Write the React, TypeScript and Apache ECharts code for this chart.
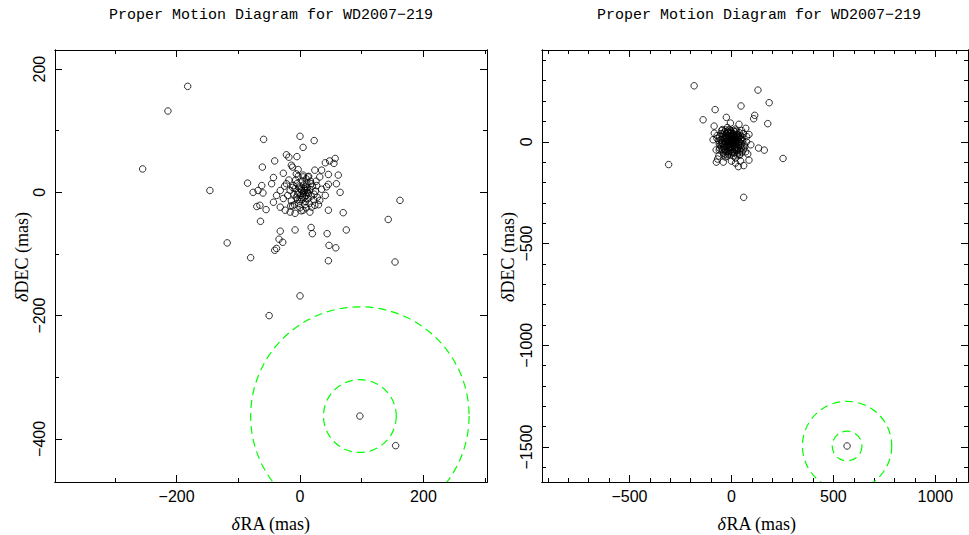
import React, { useEffect, useRef } from 'react';
import * as echarts from 'echarts';

const TITLE = 'Proper Motion Diagram for WD2007\u2212219';

// Axis extents (mas)
const leftXRange = [-397, 303];
const leftYRange = [-470, 231];
const rightXRange = [-929, 1160];
const rightYRange = [-1672, 451];

// Tick values
const leftXMajor = [-200, 0, 200];
const leftXMinor = [-300, -100, 100, 300];
const leftYMajor = [-400, -200, 0, 200];
const leftYMinor = [-300, -100, 100];
const rightXMajor = [-500, 0, 500, 1000];
const rightXMinor = [-900, -800, -700, -600, -400, -300, -200, -100, 100, 200, 300, 400, 600, 700, 800, 900, 1100];
const rightYMajor = [-1500, -1000, -500, 0];
const rightYMinor = [-1600, -1400, -1300, -1200, -1100, -900, -800, -700, -600, -400, -300, -200, -100, 100, 200, 300, 400];

// Left panel: field stars (dRA, dDEC)
const leftStars: number[][] = [
  [-182, 172], [-214, 132], [-255, 38], [-146, 3], [-118, -82], [-80, -106],
  [162, -13], [143, -44], [154, -113], [0, -168], [-50, -200], [155, -411],
  [-59, 86], [0, 91], [23, 84], [5, 73], [-22, 61], [-18, 57], [-5, 58],
  [-41, 51], [-61, 41], [-14, 44], [-12, 41], [-3, 37], [41, 48], [48, 51],
  [57, 55], [55, 47], [-27, 31], [-43, 24], [-46, 14], [-85, 15], [-76, 0],
  [-68, 3], [-62, 11], [-60, -1], [5, 28], [13, 25], [24, 36], [35, 36],
  [32, 25], [46, 29], [62, 28], [59, 14], [65, 0], [46, 13], [43, 9], [27, 11],
  [-11, 11], [-22, 14], [-32, 3], [-38, -5], [-43, -16], [-27, -10], [-32, -24],
  [-24, -29], [-16, -32], [-8, -34], [5, -29], [16, -32], [24, -21], [32, -13],
  [41, -5], [-70, -23], [-65, -21], [-55, -28], [-64, -47], [46, -29], [70, -33],
  [-32, -63], [-8, -61], [18, -57], [20, -67], [44, -67], [75, -61], [-34, -76],
  [-28, -81], [-38, -91], [-41, -94], [47, -86], [58, -90], [46, -111],
  [2, 5], [5, -2], [8, 3], [-3, 0], [10, -5], [0, 10], [6, 12], [12, 8], [-6, -8],
  [3, -12], [14, -2], [-8, 6], [9, -15], [16, 5], [-2, -18], [4, 18], [11, 15],
  [-10, -3], [7, -8], [1, -5], [13, -10], [-5, 14], [18, -6], [20, 10], [-12, 8],
  [0, -25], [10, 22], [-4, -12], [15, -18], [6, 0], [3, 3], [-1, 7], [12, 0],
  [8, -20], [-7, 20], [17, 18], [22, -12], [-14, -14], [5, 25], [25, 2], [9, 9],
  [-9, -20], [19, -24], [2, -30], [-3, 26],
  [-18, 20], [-15, -22], [28, -8], [26, 18], [-20, -5], [10, -25], [-6, 30],
  [30, -20], [14, 26], [-25, 10], [4, -8], [11, 3], [-4, -4], [18, 14], [7, 6],
  [0, -12], [-12, -22], [23, -3], [-16, 3], [35, 5],
];
const leftTarget: number[][] = [[97, -363]];
// Error circles: centre x, centre y, radius (mas)
const leftCircles: number[][] = [[97, -363, 59], [97, -363, 177]];

// Right panel
const rightStars: number[][] = [
  [-183, 275], [130, 254], [185, 192], [47, 176], [-80, 158], [-139, 108],
  [114, 130], [109, 113], [178, 89], [-25, 120], [-85, 77], [-84, 42], [86, 36],
  [133, -31], [161, -41], [253, -82], [-308, -112], [60, -273], [-74, -100],
  [0, -95], [34, -122], [60, -117], [86, -90], [-62, -70], [-57, -32], [-71, 17],
  [70, 66], [37, 86], [-5, 92], [74, 0], [41, -65], [70, -49], [-45, 60],
  [50, 55], [-60, -10], [65, -25], [20, -80], [-30, -75], [-20, 70], [55, 20],
  [0, 0], [5, 10], [-5, -5], [10, -10], [-10, 15], [15, 5], [-15, -15], [20, 20],
  [-20, 5], [8, -20], [-8, 25], [25, -5], [-25, -20], [12, 30], [-12, -30],
  [30, 10], [-30, 0], [3, -35], [-3, 38], [35, -15], [-35, 20], [18, -28],
  [-18, 32], [28, 25], [-28, -8], [6, 15], [-6, -12], [14, -3], [-14, 8],
  [22, -18], [-22, -25], [2, 22], [-2, -22], [32, -30], [-32, 28], [40, 0],
  [-40, -15], [10, 40], [-10, -40], [25, 35], [-25, 40], [38, 22], [-38, -30],
  [16, -40], [-16, 45], [4, 5], [-4, 2], [9, -6], [-9, -2], [12, 12], [-12, -10],
  [20, -8], [-20, 18], [0, 28], [0, -15], [45, 10], [-45, 5], [30, -40],
  [-30, -45], [15, 50],
  [-50, 40], [-45, 25], [-52, 10], [-48, -5], [-50, -25], [-45, -40], [-40, -55],
  [-30, -60], [-15, -62], [0, -58], [15, -55], [30, -55], [42, -45], [48, -30],
  [50, -10], [48, 15], [45, 30], [38, 45], [25, 52], [10, 55], [-5, 55], [-20, 52],
  [-35, 48], [-42, 38], [-33, 12], [-36, -22], [-22, -48], [8, -48], [26, -45],
  [36, -2], [33, 18], [-25, 25], [-18, -2], [-8, -30], [22, 8], [7, -8], [-2, 12],
  [17, 28], [-12, 48], [5, -52], [-55, -15], [52, -50], [-58, 25], [55, 5],
  [-47, 55], [40, -62], [-10, 60], [28, -65], [-28, 58], [60, -35], [-60, -40],
  [-38, -65], [18, 62], [58, 40], [-20, -70], [10, -70], [-62, 5], [62, -15],
  [0, 45], [-44, -8], [44, -20], [-6, -46], [24, -30], [-26, 14], [12, 18],
  [-16, -50], [34, 32], [-34, -38], [6, 34], [-8, -24],
  [-75, -40], [-70, 30], [75, 25], [80, -60], [-68, -85], [45, -95], [20, -105],
  [-40, -100], [-90, 10], [95, -15],
];
const rightTarget: number[][] = [[567, -1495]];
const rightCircles: number[][] = [[567, -1495, 73], [567, -1495, 219]];

const fmt = (v: number) => (v < 0 ? '\u2212' + Math.abs(v) : String(v));

function axis(grid: number, range: number[], pos: string, ticks: number[], len: number, labels: boolean, rotate = 0, margin = 6) {
  return {
    type: 'value',
    gridIndex: grid,
    position: pos,
    min: range[0],
    max: range[1],
    scale: true,
    axisLine: { show: true, onZero: false, lineStyle: { color: '#000', width: 1 } },
    axisTick: { show: true, inside: true, length: len, customValues: ticks, lineStyle: { color: '#000', width: 1 } },
    axisLabel: labels
      ? { show: true, customValues: ticks, formatter: fmt, color: '#000', fontSize: 16, fontFamily: 'Liberation Sans', rotate, margin }
      : { show: false },
    splitLine: { show: false },
    minorTick: { show: false },
  };
}

function circleRender(params: any, api: any) {
  const c = api.coord([api.value(0), api.value(1)]);
  const r = api.size([api.value(2), 0])[0];
  return {
    type: 'circle',
    shape: { cx: c[0], cy: c[1], r },
    style: { fill: 'none', stroke: '#00ff00', lineWidth: 1.2, lineDash: [8, 5] },
  };
}

const scatterStyle = {
  type: 'scatter',
  symbol: 'circle',
  symbolSize: 6.5,
  itemStyle: { color: 'rgba(0,0,0,0)', borderColor: '#000', borderWidth: 1 },
  silent: true,
  clip: true,
};

export default function App() {
  const ref = useRef<HTMLDivElement>(null);
  useEffect(() => {
    document.body.style.margin = '0';
    const chart = echarts.init(ref.current!, null, { renderer: 'svg' });
    const xAxes = [
      axis(0, leftXRange, 'bottom', leftXMajor, 7, true, 0, 6),
      axis(0, leftXRange, 'bottom', leftXMinor, 4, false),
      axis(0, leftXRange, 'top', leftXMajor, 7, false),
      axis(0, leftXRange, 'top', leftXMinor, 4, false),
      axis(1, rightXRange, 'bottom', rightXMajor, 7, true, 0, 6),
      axis(1, rightXRange, 'bottom', rightXMinor, 4, false),
      axis(1, rightXRange, 'top', rightXMajor, 7, false),
      axis(1, rightXRange, 'top', rightXMinor, 4, false),
    ];
    const yAxes = [
      axis(0, leftYRange, 'left', leftYMajor, 7, true, 90, 8),
      axis(0, leftYRange, 'left', leftYMinor, 4, false),
      axis(0, leftYRange, 'right', leftYMajor, 7, false),
      axis(0, leftYRange, 'right', leftYMinor, 4, false),
      axis(1, rightYRange, 'left', rightYMajor, 7, true, 90, 8),
      axis(1, rightYRange, 'left', rightYMinor, 4, false),
      axis(1, rightYRange, 'right', rightYMajor, 7, false),
      axis(1, rightYRange, 'right', rightYMinor, 4, false),
    ];
    const titleStyle = { fontFamily: 'Liberation Mono', fontSize: 15, fill: '#000', align: 'center', verticalAlign: 'middle' };
    const nameStyle = {
      fontFamily: 'Liberation Serif', fontSize: 18, fill: '#000', align: 'center', verticalAlign: 'middle',
      rich: { i: { fontFamily: 'Liberation Serif', fontSize: 18, fontStyle: 'italic', fill: '#000' } },
    };
    chart.setOption({
      animation: false,
      backgroundColor: '#fff',
      grid: [
        { left: 55, top: 50, width: 432, height: 432, containLabel: false, outerBoundsMode: 'none' },
        { left: 542, top: 50, width: 426, height: 432, containLabel: false, outerBoundsMode: 'none' },
      ],
      xAxis: xAxes,
      yAxis: yAxes,
      graphic: [
        { type: 'text', x: 271, y: 15, style: { ...titleStyle, text: TITLE } },
        { type: 'text', x: 759, y: 15, style: { ...titleStyle, text: TITLE } },
        { type: 'text', x: 271, y: 524, style: { ...nameStyle, text: '{i|\u03b4}RA (mas)' } },
        { type: 'text', x: 757, y: 524, style: { ...nameStyle, text: '{i|\u03b4}RA (mas)' } },
        { type: 'text', x: 22, y: 257, rotation: Math.PI / 2, style: { ...nameStyle, text: '{i|\u03b4}DEC (mas)' } },
        { type: 'text', x: 508, y: 257, rotation: Math.PI / 2, style: { ...nameStyle, text: '{i|\u03b4}DEC (mas)' } },
      ],
      series: [
        { ...scatterStyle, xAxisIndex: 0, yAxisIndex: 0, data: leftStars },
        { ...scatterStyle, xAxisIndex: 0, yAxisIndex: 0, data: leftTarget },
        { type: 'custom', xAxisIndex: 0, yAxisIndex: 0, clip: true, silent: true, renderItem: circleRender, data: leftCircles },
        { ...scatterStyle, xAxisIndex: 4, yAxisIndex: 4, data: rightStars },
        { ...scatterStyle, xAxisIndex: 4, yAxisIndex: 4, data: rightTarget },
        { type: 'custom', xAxisIndex: 4, yAxisIndex: 4, clip: true, silent: true, renderItem: circleRender, data: rightCircles },
      ],
    });
    return () => chart.dispose();
  }, []);
  return <div ref={ref} style={{ position: 'fixed', left: 0, top: 0, width: 969, height: 535 }} />;
}
